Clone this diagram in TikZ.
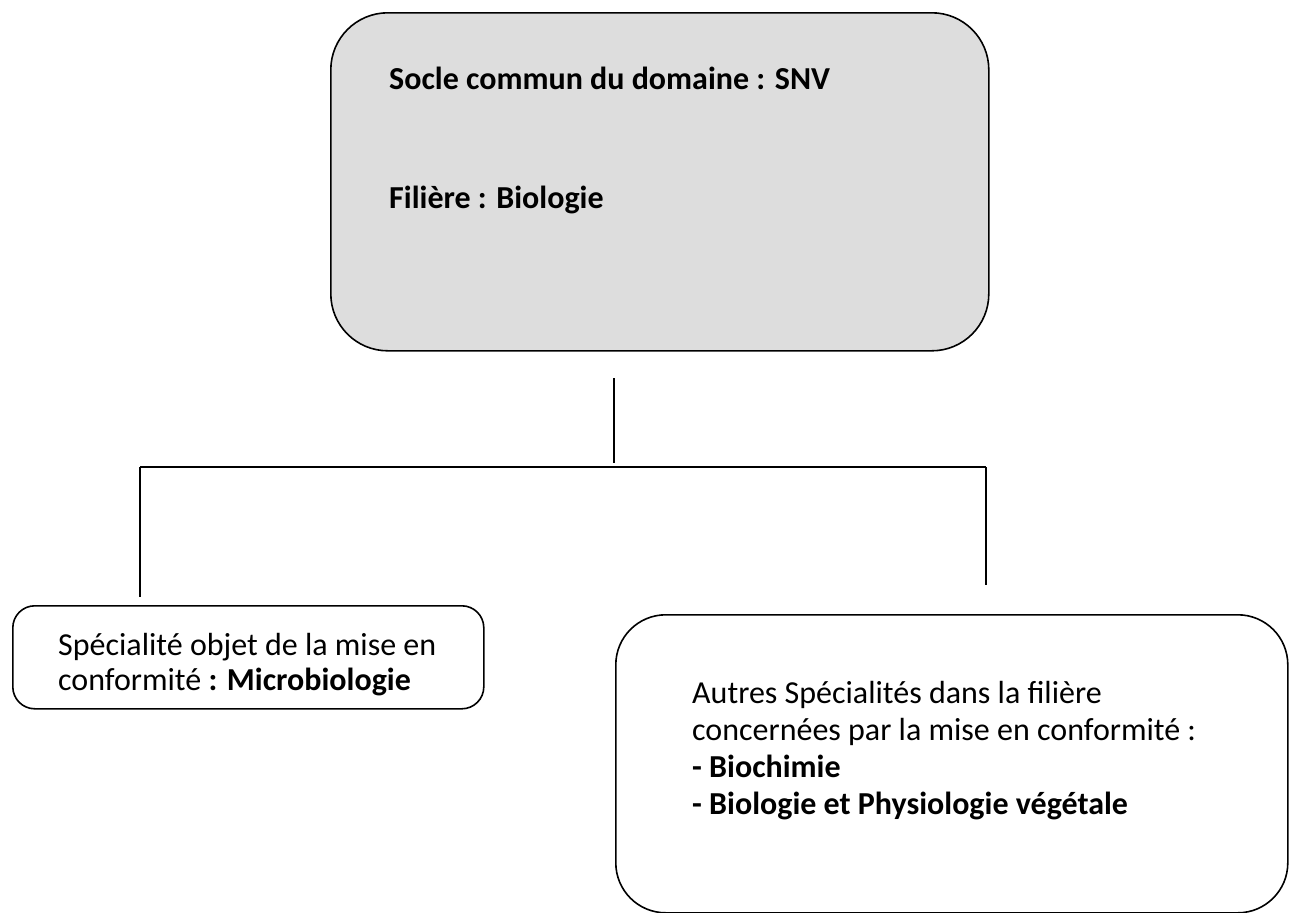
\documentclass[tikz,border=0pt]{standalone}
\usepackage{fontspec}
\setmainfont{Carlito}
\definecolor{boxgray}{RGB}{221,221,221}
\begin{document}
\begin{tikzpicture}[x=1bp,y=-1bp,
  box/.style={draw=black, line width=1.6bp, rounded corners=#1, inner sep=0pt, anchor=north west},
  txt/.style={anchor=base west, inner sep=0pt, font=\fontsize{32bp}{35bp}\selectfont},
  conn/.style={draw=black, line width=1.4bp}]
\useasboundingbox (0,0) rectangle (1294,913);
% top box
\node[box=57bp, fill=boxgray, minimum width=658bp, minimum height=338bp] (top) at (330,12) {};
\node[txt] (t1) at (389,89) {\bfseries Socle commun du domaine : SNV};
\node[txt] (t2) at (389,208) {\bfseries Filière : Biologie};
% left box
\node[box=22bp, minimum width=471bp, minimum height=103bp] (left) at (12,605) {};
\node[txt] (l1) at (58,655) {Spécialité objet de la mise en};
\node[txt] (l2) at (58,690) {conformité \textbf{: Microbiologie}};
% right box
\node[box=50bp, minimum width=672bp, minimum height=298bp] (right) at (615,614) {};
\node[txt] (r1) at (692,703) {Autres Spécialités dans la filière};
\node[txt] (r2) at (692,740) {concernées par la mise en conformité :};
\node[txt] (r3) at (692,777) {\bfseries - Biochimie};
\node[txt] (r4) at (692,814) {\bfseries - Biologie et Physiologie végétale};
% connectors
\coordinate (c0) at (614,378);
\coordinate (c1) at (614,463);
\coordinate (hl) at (140,467);
\coordinate (hr) at (986,467);
\coordinate (le) at (140,597);
\coordinate (re) at (986,585);
\draw[conn] (c0) -- (c1);
\draw[conn, line width=2bp] (hl) -- (hr);
\draw[conn] (hl) -- (le);
\draw[conn] (hr) -- (re);
\end{tikzpicture}
\end{document}
